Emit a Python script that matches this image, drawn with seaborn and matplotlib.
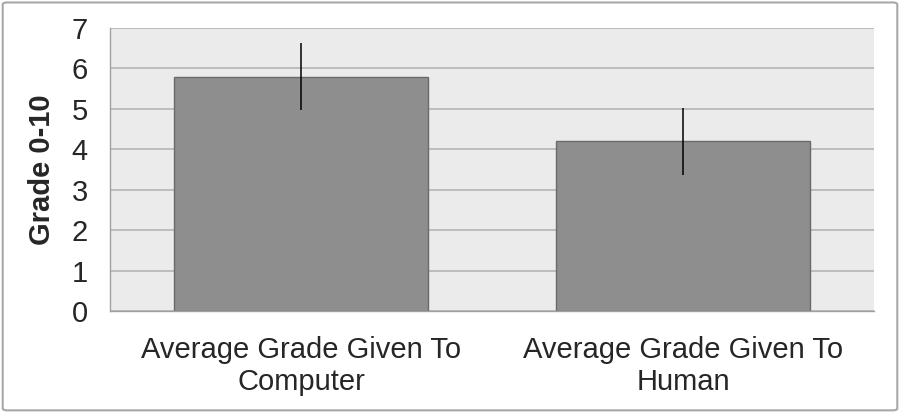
import matplotlib
matplotlib.use("Agg")
import matplotlib.pyplot as plt
import seaborn as sns
import pandas as pd
from matplotlib.patches import FancyBboxPatch

# Données
categories = ["Average Grade Given To\nComputer", "Average Grade Given To\nHuman"]
grades = [5.8, 4.2]
errors = [0.83, 0.83]
y_ticks = [0, 1, 2, 3, 4, 5, 6, 7]

df = pd.DataFrame({"category": categories, "grade": grades})

sns.set_style("white")
plt.rcParams["font.family"] = ["Liberation Sans", "DejaVu Sans"]

fig = plt.figure(figsize=(9, 4.12), dpi=100)
ax = fig.add_axes([110 / 900, 1 - 311 / 412, 764 / 900, 283 / 412])

sns.barplot(data=df, x="category", y="grade", color="#8e8e8e", saturation=1,
            width=0.667, errorbar=None, edgecolor="#6a6a6a", linewidth=1.0,
            ax=ax, zorder=2)

# Barres d'erreur centrées sur chaque barre
centers = [p.get_x() + p.get_width() / 2 for p in ax.patches]
ax.errorbar(centers, grades, yerr=errors, fmt="none", ecolor="black",
            elinewidth=1.1, capsize=0, zorder=3)

ax.set_facecolor("#ebebeb")
ax.set_ylim(0, 7)
ax.set_xlim(-0.5, 1.5)
ax.set_yticks(y_ticks)
ax.yaxis.grid(True, color="#b4b4b4", linewidth=1.2, zorder=0)
ax.set_axisbelow(True)

for side in ["top", "right"]:
    ax.spines[side].set_visible(False)
ax.spines["left"].set_color("#a0a0a0")
ax.spines["bottom"].set_color("#a0a0a0")
ax.spines["left"].set_linewidth(1.0)
ax.spines["bottom"].set_linewidth(1.0)

ax.set_xticks([-0.5, 0.5, 1.5], minor=False)
ax.set_xticklabels([])
ax.set_xticks([0, 1], minor=True)
ax.set_xticklabels(categories, minor=True, fontsize=21, linespacing=1.2)
ax.tick_params(axis="x", which="major", direction="out", length=6,
               color="#a0a0a0", width=1)
ax.tick_params(axis="x", which="minor", length=0, pad=18)
ax.tick_params(axis="y", direction="out", length=8, color="#a0a0a0",
               width=1, labelsize=21, pad=8)

ax.set_xlabel("")
ax.set_ylabel("Grade 0-10", fontsize=21, fontweight="bold", labelpad=11)

# Cadre arrondi autour de la figure
frame = FancyBboxPatch((0.003, 0.004), 0.994, 0.99, boxstyle="round,pad=0,rounding_size=0.005",
                       transform=fig.transFigure, facecolor="none",
                       edgecolor="#a8a8a8", linewidth=1.5)
fig.patches.append(frame)

fig.savefig("out.png", dpi=100)
